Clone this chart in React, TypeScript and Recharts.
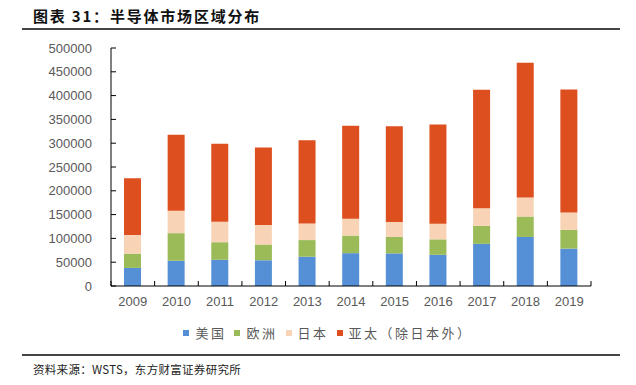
import React from 'react';
import { BarChart, Bar, XAxis, YAxis, Legend } from 'recharts';

const years = ['2009', '2010', '2011', '2012', '2013', '2014', '2015', '2016', '2017', '2018', '2019'];
const americas = [38000, 53000, 55000, 54000, 61500, 69000, 68500, 65500, 88500, 103000, 78500];
const europe = [30000, 58000, 37000, 33000, 35000, 37000, 34500, 32500, 38000, 43000, 39500];
const japan = [39000, 47000, 43000, 41000, 35000, 35500, 31500, 33000, 37000, 40000, 36500];
const asiaPac = [119500, 160000, 164000, 163000, 174500, 195000, 201000, 208500, 249000, 283000, 258500];
const yTicks = [0, 50000, 100000, 150000, 200000, 250000, 300000, 350000, 400000, 450000, 500000];

const series = [
  { key: 'americas', name: '美国', color: '#5590D6' },
  { key: 'europe', name: '欧洲', color: '#9BBB59' },
  { key: 'japan', name: '日本', color: '#F9D3B5' },
  { key: 'asiaPac', name: '亚太（除日本外）', color: '#DD4F1E' },
];
const seriesOrder = series.map((s) => s.name);

const data = years.map((y, i) => ({
  year: y,
  americas: americas[i],
  europe: europe[i],
  japan: japan[i],
  asiaPac: asiaPac[i],
}));

const X_MARGIN = 16;

function XTick(props: any) {
  const { x, y, payload, index, visibleTicksCount } = props;
  const off = payload && payload.offset ? payload.offset : 21.8;
  const y0 = y - X_MARGIN;
  const last = index === visibleTicksCount - 1;
  return (
    <g>
      <line x1={x - off} x2={x - off} y1={y0} y2={y0 - 5} stroke="#000" strokeWidth={1} />
      {last && <line x1={x + off} x2={x + off} y1={y0} y2={y0 - 5} stroke="#000" strokeWidth={1} />}
      <text x={x} y={y} dy={4} textAnchor="middle" fill="#595959" fontSize={13} fontFamily="'Liberation Sans', Arial, sans-serif">
        {payload.value}
      </text>
    </g>
  );
}

function LegendContent(props: any) {
  const items = [...(props.payload || [])].sort(
    (a: any, b: any) => seriesOrder.indexOf(a.value) - seriesOrder.indexOf(b.value)
  );
  return (
    <div style={{ display: 'flex', justifyContent: 'center', gap: 8, paddingLeft: 20, fontFamily: "'Noto Sans CJK SC', sans-serif", fontSize: 13, color: '#595959', letterSpacing: 2.5 }}>
      {items.map((it: any) => (
        <div key={it.value} style={{ display: 'flex', alignItems: 'center' }}>
          <span style={{ display: 'inline-block', width: 6, height: 6, background: it.color, marginRight: 6 }} />
          <span>{it.value}</span>
        </div>
      ))}
    </div>
  );
}

export default function App() {
  return (
    <div style={{ position: 'relative', width: 636, height: 385, background: '#fff', fontFamily: "'Noto Sans CJK SC', sans-serif" }}>
      <style>{'body{margin:0}'}</style>
      <div style={{ position: 'absolute', left: 33, top: 5, fontSize: 15, fontWeight: 'bold', color: '#111', letterSpacing: 1.8 }}>
        图表 31：半导体市场区域分布
      </div>
      <div style={{ position: 'absolute', left: 22, top: 28, width: 598, height: 1.5, background: '#444' }} />
      <div style={{ position: 'absolute', left: 0, top: 0 }}>
        <BarChart width={636} height={385} data={data} margin={{ top: 48, right: 45, left: 0, bottom: 49 }}>
          <YAxis
            width={111}
            domain={[0, 500000]}
            ticks={yTicks}
            interval={0}
            tickSize={-5}
            tickMargin={24}
            axisLine={{ stroke: '#000' }}
            tickLine={{ stroke: '#000' }}
            tick={{ fill: '#595959', fontSize: 13, fontFamily: "'Liberation Sans', Arial, sans-serif" }}
          />
          <XAxis
            dataKey="year"
            height={30}
            interval={0}
            tickSize={0}
            tickMargin={X_MARGIN}
            tickLine={false}
            axisLine={{ stroke: '#000' }}
            tick={<XTick />}
          />
          <Legend
            verticalAlign="bottom"
            content={<LegendContent />}
            wrapperStyle={{ position: 'absolute', top: 323, left: 0, width: 636, height: 20 }}
          />
          {series.map((s) => (
            <Bar key={s.key} dataKey={s.key} name={s.name} stackId="a" fill={s.color} barSize={17} isAnimationActive={false} />
          ))}
        </BarChart>
      </div>
      <div style={{ position: 'absolute', left: 22, top: 354, width: 598, height: 1.5, background: '#444' }} />
      <div style={{ position: 'absolute', left: 33, top: 361, fontSize: 11.5, color: '#222', letterSpacing: 0.3 }}>
        资料来源：WSTS，东方财富证券研究所
      </div>
    </div>
  );
}
